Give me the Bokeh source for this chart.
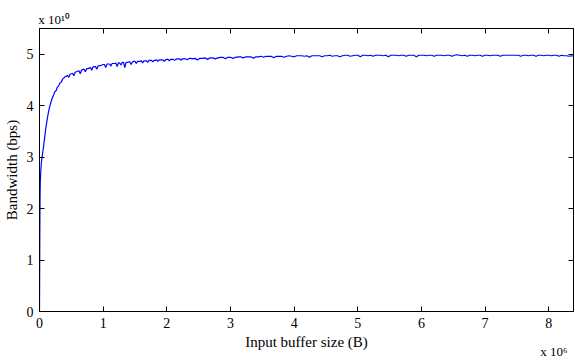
import numpy as np
from bokeh.plotting import figure
from bokeh.models import Range1d, LinearAxis, FixedTicker
from bokeh.embed import file_html
from bokeh.resources import INLINE

# Input buffer size in units of 1e6 B, bandwidth in units of 1e10 bps
ramp_size = [0.0, 0.002, 0.004, 0.006, 0.008, 0.010, 0.012, 0.016, 0.020, 0.025,
             0.03, 0.04, 0.05, 0.06, 0.07, 0.08, 0.09, 0.10, 0.12, 0.14,
             0.16, 0.18, 0.20, 0.22, 0.24, 0.26, 0.28, 0.30, 0.32, 0.34, 0.36]
ramp_bw = [0.0, 0.6, 1.2, 1.7, 2.1, 2.35, 2.5, 2.62, 2.72, 2.82,
           2.9, 3.0, 3.08, 3.17, 3.27, 3.37, 3.47, 3.57, 3.73, 3.87,
           3.98, 4.07, 4.15, 4.20, 4.27, 4.29, 4.36, 4.38, 4.44, 4.45, 4.51]

# knee region, sampled every 0.02e6 B from 0.40e6 B
knee_start = 0.40
knee_step = 0.02
knee_bw = [
    4.56, 4.57, 4.59, 4.55, 4.61, 4.62, 4.63, 4.58, 4.65, 4.66,
    4.67, 4.68, 4.62, 4.69, 4.70, 4.71, 4.66, 4.72, 4.72, 4.73,
    4.74, 4.69, 4.75, 4.76, 4.76, 4.71, 4.77, 4.78, 4.78, 4.79,
    4.80, 4.80, 4.74, 4.81, 4.81, 4.81, 4.77, 4.82, 4.82, 4.82,
    4.83, 4.76, 4.83, 4.83, 4.79, 4.84, 4.84, 4.74, 4.84, 4.84,
    4.85, 4.85, 4.80, 4.85, 4.86, 4.86, 4.82, 4.86, 4.86, 4.86,
    4.87, 4.83, 4.87, 4.87, 4.87, 4.84, 4.88, 4.88, 4.88, 4.85,
    4.88, 4.88, 4.89, 4.86, 4.89, 4.89, 4.89, 4.89, 4.86, 4.89,
    4.90, 4.90, 4.87, 4.90, 4.90, 4.90, 4.88, 4.90, 4.91, 4.91,
    4.91, 4.88, 4.91, 4.91, 4.91, 4.91, 4.89, 4.91, 4.92, 4.92,
]

# plateau, sampled every 0.04e6 B from 2.40e6 B
plateau_start = 2.40
plateau_step = 0.04
plateau_bw = [
    4.91, 4.92, 4.89, 4.92, 4.92, 4.93, 4.90, 4.93, 4.93, 4.91,
    4.93, 4.94, 4.94, 4.91, 4.94, 4.94, 4.92, 4.94, 4.95, 4.95,
    4.93, 4.95, 4.95, 4.95, 4.92, 4.95, 4.95, 4.96, 4.94, 4.96,
    4.96, 4.96, 4.93, 4.96, 4.96, 4.96, 4.94, 4.96, 4.97, 4.96,
    4.95, 4.97, 4.97, 4.97, 4.96, 4.97, 4.94, 4.97, 4.97, 4.97,
    4.97, 4.95, 4.97, 4.97, 4.98, 4.96, 4.97, 4.97, 4.95, 4.97,
    4.98, 4.98, 4.96, 4.97, 4.98, 4.98, 4.95, 4.98, 4.98, 4.97,
    4.98, 4.96, 4.98, 4.98, 4.98, 4.97, 4.98, 4.95, 4.98, 4.98,
    4.98, 4.97, 4.98, 4.98, 4.96, 4.98, 4.98, 4.98, 4.95, 4.98,
    4.98, 4.98, 4.97, 4.98, 4.98, 4.96, 4.98, 4.98, 4.98, 4.97,
    4.98, 4.98, 4.96, 4.98, 4.99, 4.98, 4.97, 4.98, 4.96, 4.98,
    4.98, 4.97, 4.98, 4.98, 4.96, 4.98, 4.98, 4.97, 4.98, 4.98,
    4.98, 4.96, 4.98, 4.98, 4.98, 4.98, 4.98, 4.98, 4.98, 4.96,
    4.98, 4.98, 4.97, 4.98, 4.98, 4.96, 4.98, 4.98, 4.97, 4.98,
    4.98, 4.97, 4.98, 4.98, 4.96, 4.98, 4.97, 4.97, 4.96, 4.97,
]
end_size = 8.388608
end_bw = 4.96

x_ticks = [0, 1, 2, 3, 4, 5, 6, 7, 8]
y_ticks = [0, 1, 2, 3, 4, 5]
x_max = 8.388608
y_max = 5.5

knee_size = list(np.round(knee_start + knee_step * np.arange(len(knee_bw)), 4))
plateau_size = list(np.round(plateau_start + plateau_step * np.arange(len(plateau_bw)), 4))
sizes = ramp_size + knee_size + plateau_size + [end_size]
bws = ramp_bw + knee_bw + plateau_bw + [end_bw]

FONT = "Liberation Serif"
FS = "14px"
NB = "\u00a0"

p = figure(frame_width=534, frame_height=283, output_backend="svg",
           toolbar_location=None, x_range=Range1d(0, x_max), y_range=Range1d(0, y_max),
           min_border_left=39, min_border_top=28, min_border_right=2, min_border_bottom=50,
           background_fill_color="white", border_fill_color="white")
p.grid.visible = False
p.outline_line_color = "black"
p.outline_line_width = 1

for ax in (p.xaxis[0], p.yaxis[0]):
    ax.major_tick_in = 5
    ax.major_tick_out = 0
    ax.minor_tick_line_color = None
    ax.major_label_text_font = FONT
    ax.major_label_text_font_size = FS
    ax.major_label_text_color = "black"
    ax.axis_line_color = "black"
    ax.major_tick_line_color = "black"
    ax.major_label_standoff = 6
    ax.axis_label_text_font = FONT
    ax.axis_label_text_font_size = "15px"
    ax.axis_label_text_font_style = "normal"
    ax.axis_label_text_color = "black"
p.xaxis[0].ticker = FixedTicker(ticks=x_ticks)
p.yaxis[0].ticker = FixedTicker(ticks=y_ticks)
p.xaxis[0].axis_label = "Input buffer size (B)"
p.xaxis[0].axis_label_standoff = 3
p.yaxis[0].axis_label = "Bandwidth (bps)"
p.yaxis[0].axis_label_standoff = 4

# the axis label is centred on its anchor, so pad it to put the glyphs where wanted
top = LinearAxis(ticker=FixedTicker(ticks=x_ticks), major_tick_in=5, major_tick_out=0,
                 minor_tick_line_color=None, major_label_text_font_size="0px",
                 major_label_standoff=0, axis_line_color="black",
                 axis_label=NB * 9 + "x 10\u00b9\u2070", axis_label_align="start",
                 axis_label_standoff=2, axis_label_text_font=FONT,
                 axis_label_text_font_size="13px", axis_label_text_font_style="normal",
                 axis_label_text_color="black")
right = LinearAxis(ticker=FixedTicker(ticks=y_ticks), major_tick_in=5, major_tick_out=0,
                   minor_tick_line_color=None, major_label_text_font_size="0px",
                   major_label_standoff=0, axis_line_color="black")
p.add_layout(top, "above")
p.add_layout(right, "right")

scale_x = LinearAxis(ticker=FixedTicker(ticks=[]), major_tick_in=0, major_tick_out=0,
                     minor_tick_line_color=None, major_label_text_font_size="0px",
                     major_label_standoff=0, axis_line_color=None,
                     axis_label="x 10\u2076" + NB * 12, axis_label_align="end",
                     axis_label_standoff=-9, axis_label_text_font=FONT,
                     axis_label_text_font_size="13px", axis_label_text_font_style="normal",
                     axis_label_text_color="black")
p.add_layout(scale_x, "below")

p.line(sizes, bws, line_color="#0000ff", line_width=1.2)

open("out.html", "w").write(file_html(p, INLINE))
